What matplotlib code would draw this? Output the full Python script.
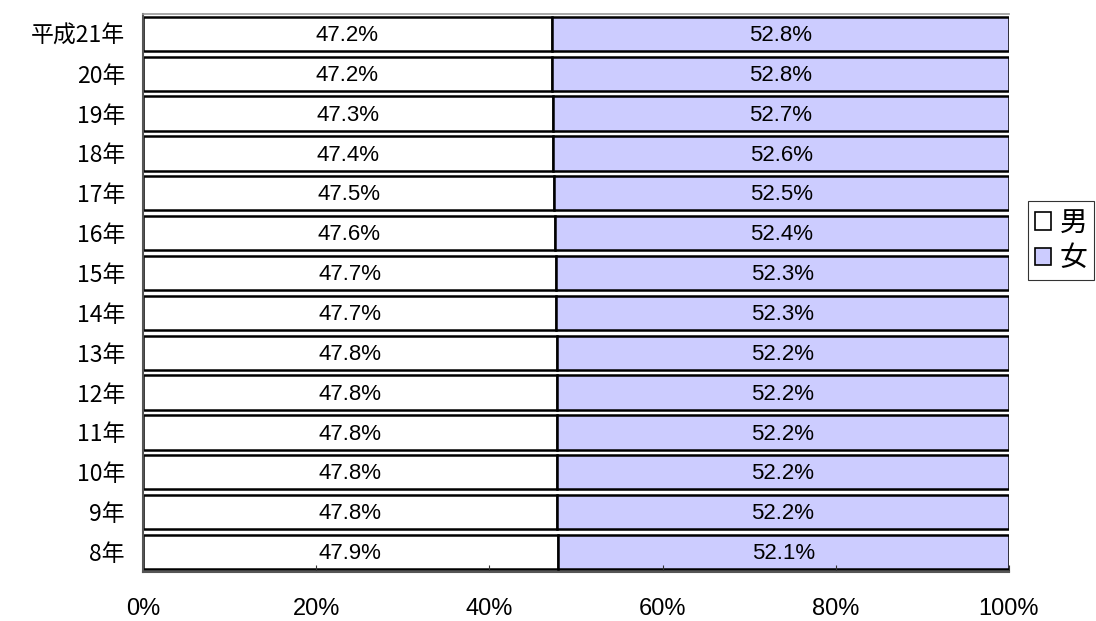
import matplotlib
matplotlib.use("Agg")
import matplotlib.pyplot as plt
from matplotlib.patches import Patch

plt.rcParams['font.family'] = ['Noto Sans CJK JP', 'DejaVu Sans']

years = ["8年", "9年", "10年", "11年", "12年", "13年", "14年",
         "15年", "16年", "17年", "18年", "19年", "20年", "平成21年"]
male = [47.9, 47.8, 47.8, 47.8, 47.8, 47.8, 47.7,
        47.7, 47.6, 47.5, 47.4, 47.3, 47.2, 47.2]
female = [52.1, 52.2, 52.2, 52.2, 52.2, 52.2, 52.3,
          52.3, 52.4, 52.5, 52.6, 52.7, 52.8, 52.8]
series_names = ["男", "女"]
colors = ["#FFFFFF", "#CCCCFF"]

NUM_FONT = "Liberation Sans"


def main():
    fig = plt.figure(figsize=(10.96, 6.21), dpi=100)
    ax = fig.add_axes([0.1305, 0.0789, 0.79, 0.8986])

    pos = list(range(len(years)))
    ax.barh(pos, male, height=0.86, color=colors[0], edgecolor="black", linewidth=1.8)
    ax.barh(pos, female, left=male, height=0.86, color=colors[1], edgecolor="black", linewidth=1.8)

    for i in pos:
        ax.text(male[i] / 2, i - 0.04, f"{male[i]:.1f}%", ha="center", va="center",
                fontsize=16, family=NUM_FONT)
        ax.text(male[i] + female[i] / 2, i - 0.04, f"{female[i]:.1f}%", ha="center", va="center",
                fontsize=16, family=NUM_FONT)

    ax.set_xlim(0, 100)
    ax.set_ylim(-0.5, len(years) - 0.5)
    ax.set_xticks([0, 20, 40, 60, 80, 100])
    ax.set_xticklabels(["0%", "20%", "40%", "60%", "80%", "100%"], family=NUM_FONT)
    ax.set_yticks(pos)
    ax.set_yticklabels(years)
    ax.tick_params(axis="x", labelsize=17, pad=19, direction="in", length=5, color="#333333")
    ax.tick_params(axis="y", labelsize=16.5, length=0, pad=13)

    ax.spines["right"].set_visible(False)
    ax.spines["top"].set_color("#999999")
    ax.spines["top"].set_linewidth(1.2)
    ax.spines["left"].set_color("#555555")
    ax.spines["bottom"].set_color("#555555")
    ax.spines["left"].set_linewidth(1.5)
    ax.spines["bottom"].set_linewidth(1.5)

    handles = [Patch(facecolor=colors[0], edgecolor="black", linewidth=1.2),
               Patch(facecolor=colors[1], edgecolor="black", linewidth=1.2)]
    leg = fig.legend(handles, series_names, loc="center left", bbox_to_anchor=(0.938, 0.6127),
                     fontsize=20, frameon=True, fancybox=False, edgecolor="black",
                     handlelength=0.58, handleheight=0.58, handletextpad=0.3,
                     borderpad=0.25, labelspacing=0.2, borderaxespad=0)
    leg.get_frame().set_linewidth(0.8)

    fig.savefig("out.png", dpi=100)


if __name__ == "__main__":
    main()
